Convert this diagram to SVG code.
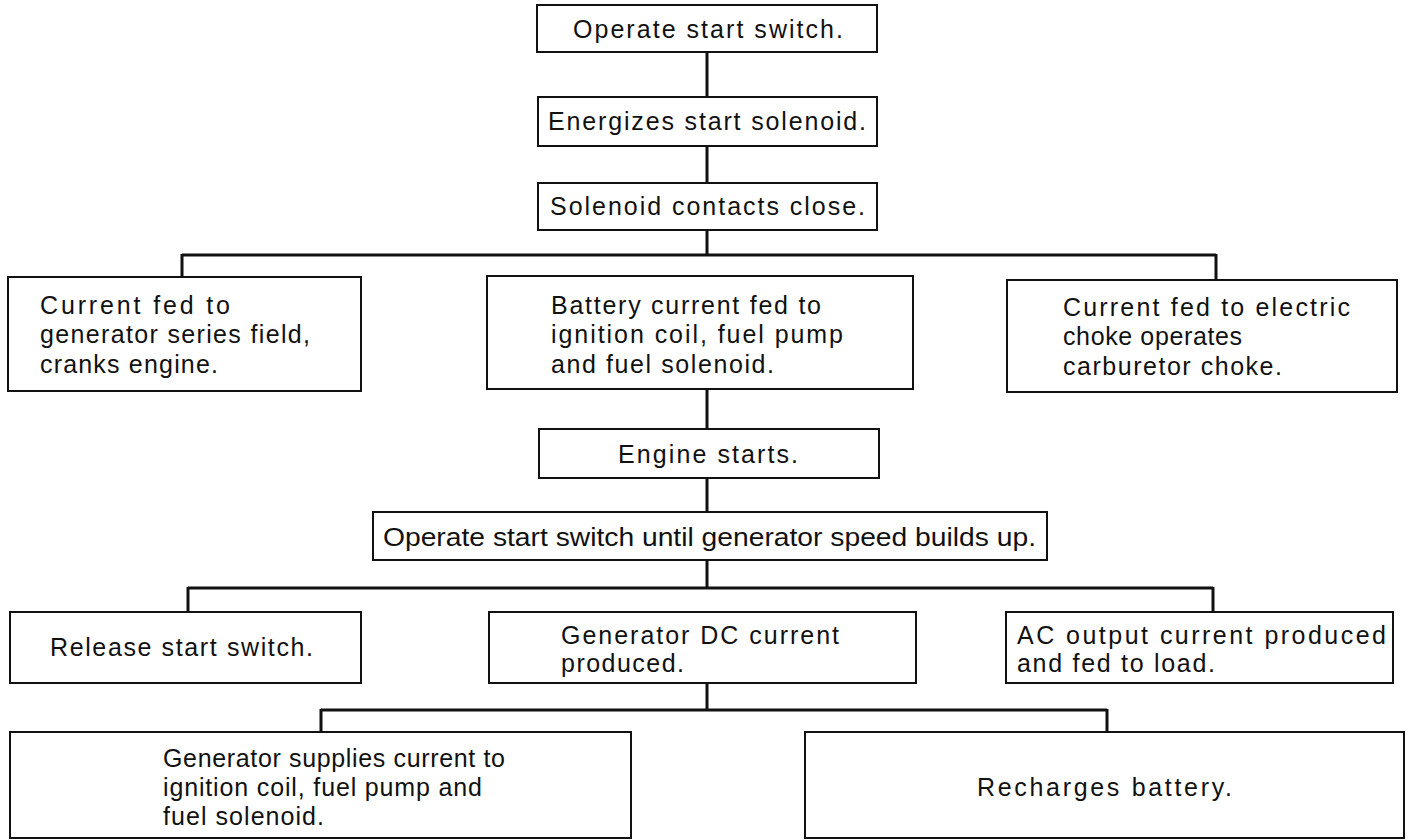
<svg xmlns="http://www.w3.org/2000/svg" width="1409" height="840" viewBox="0 0 1409 840">
<style>
.box{fill:#fff;stroke:#111;stroke-width:2}
.t{font-family:"Liberation Sans",Arial,sans-serif;font-size:25px;fill:#111}
.c{fill:none;stroke:#111;stroke-width:3}
</style>
<rect width="1409" height="840" fill="#fff"/>
<g id="connectors">
<path class="c" d="M707 52V97M707 146V183M707 230V255M182 255H1216M182 254V277M1216 254V280M707 389V429M707 478V512M707 560V588M188 588H1213M188 587V612M1213 587V612M707 683V710M321 710H1107M321 709V732M1107 709V732"/>
</g>
<g id="n1"><rect class="box" x="537" y="5" width="340" height="47"/><text class="t" x="573" y="38" textLength="270">Operate start switch.</text></g>
<g id="n2"><rect class="box" x="538" y="97" width="339" height="49"/><text class="t" x="548" y="130" textLength="318">Energizes start solenoid.</text></g>
<g id="n3"><rect class="box" x="538" y="183" width="339" height="47"/><text class="t" x="550" y="215" textLength="315">Solenoid contacts close.</text></g>
<g id="n4"><rect class="box" x="8" y="277" width="353" height="114"/>
<text class="t" x="40" y="314" textLength="190">Current fed to</text>
<text class="t" x="40" y="343" textLength="270">generator series field,</text>
<text class="t" x="40" y="373" textLength="178">cranks engine.</text></g>
<g id="n5"><rect class="box" x="487" y="276" width="426" height="113"/>
<text class="t" x="551" y="314" textLength="270">Battery current fed to</text>
<text class="t" x="551" y="343" textLength="292">ignition coil, fuel pump</text>
<text class="t" x="551" y="373" textLength="223">and fuel solenoid.</text></g>
<g id="n6"><rect class="box" x="1007" y="280" width="390" height="112"/>
<text class="t" x="1063" y="316" textLength="287">Current fed to electric</text>
<text class="t" x="1063" y="345" textLength="179">choke operates</text>
<text class="t" x="1063" y="375" textLength="219">carburetor choke.</text></g>
<g id="n7"><rect class="box" x="539" y="429" width="340" height="49"/><text class="t" x="618" y="463" textLength="180">Engine starts.</text></g>
<g id="n8"><rect class="box" x="373" y="512" width="674" height="48"/><text class="t" x="383" y="546" textLength="653" lengthAdjust="spacingAndGlyphs">Operate start switch until generator speed builds up.</text></g>
<g id="n9"><rect class="box" x="10" y="612" width="351" height="71"/><text class="t" x="50" y="656" textLength="263">Release start switch.</text></g>
<g id="n10"><rect class="box" x="489" y="612" width="427" height="71"/>
<text class="t" x="561" y="644" textLength="278">Generator DC current</text>
<text class="t" x="561" y="672" textLength="123">produced.</text></g>
<g id="n11"><rect class="box" x="1006" y="612" width="387" height="71"/>
<text class="t" x="1017" y="644" textLength="369">AC output current produced</text>
<text class="t" x="1017" y="672" textLength="198">and fed to load.</text></g>
<g id="n12"><rect class="box" x="10" y="732" width="621" height="106"/>
<text class="t" x="163" y="767" textLength="342">Generator supplies current to</text>
<text class="t" x="163" y="796" textLength="319">ignition coil, fuel pump and</text>
<text class="t" x="163" y="825" textLength="161">fuel solenoid.</text></g>
<g id="n13"><rect class="box" x="805" y="732" width="599" height="106"/><text class="t" x="977" y="796" textLength="255">Recharges battery.</text></g>
</svg>
